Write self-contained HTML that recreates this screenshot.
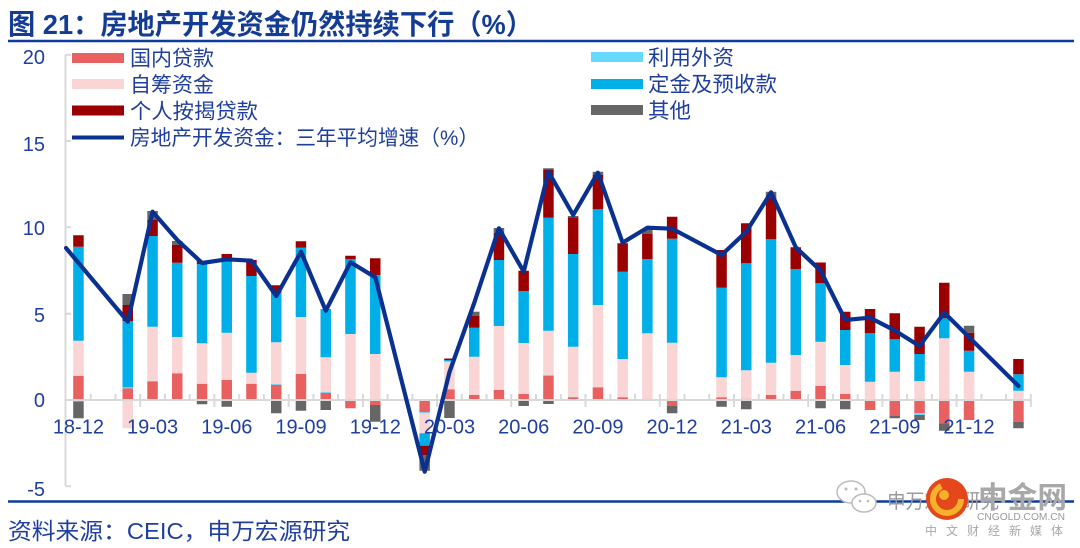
<!DOCTYPE html>
<html>
<head>
<meta charset="utf-8">
<style>
html,body{margin:0;padding:0;background:#fff;}
body{width:1080px;height:548px;overflow:hidden;}
svg{display:block;}
text{font-family:"Liberation Sans","Noto Sans CJK SC",sans-serif;}
</style>
</head>
<body>
<svg width="1080" height="548" viewBox="0 0 1080 548" xmlns="http://www.w3.org/2000/svg">
<text x="8" y="34" font-size="28" font-weight="bold" fill="#143c94" textLength="525" lengthAdjust="spacingAndGlyphs">图 21：房地产开发资金仍然持续下行（%）</text>
<line x1="8" y1="41" x2="1074" y2="41" stroke="#0e3b9c" stroke-width="2.5"/>

<rect x="72" y="53" width="52" height="10" fill="#e8605f"/>
<text x="130" y="65.5" font-size="21" fill="#1f3f9f" textLength="84" lengthAdjust="spacingAndGlyphs">国内贷款</text>
<rect x="72" y="79" width="52" height="10" fill="#f9d5d6"/>
<text x="130" y="92" font-size="21" fill="#1f3f9f" textLength="84" lengthAdjust="spacingAndGlyphs">自筹资金</text>
<rect x="72" y="105.5" width="52" height="10" fill="#9b0000"/>
<text x="130" y="118.5" font-size="21" fill="#1f3f9f" textLength="128" lengthAdjust="spacingAndGlyphs">个人按揭贷款</text>
<line x1="72" y1="137.5" x2="124" y2="137.5" stroke="#0a3190" stroke-width="4"/>
<text x="130" y="145" font-size="21" fill="#1f3f9f" textLength="349" lengthAdjust="spacingAndGlyphs">房地产开发资金：三年平均增速（%）</text>
<rect x="591" y="52" width="52" height="10" fill="#66d9ff"/>
<text x="648" y="65" font-size="21" fill="#1f3f9f" textLength="86" lengthAdjust="spacingAndGlyphs">利用外资</text>
<rect x="591" y="79" width="52" height="10" fill="#00aee8"/>
<text x="648" y="91.5" font-size="21" fill="#1f3f9f" textLength="129" lengthAdjust="spacingAndGlyphs">定金及预收款</text>
<rect x="591" y="105" width="52" height="10" fill="#666666"/>
<text x="648" y="118" font-size="21" fill="#1f3f9f" textLength="43" lengthAdjust="spacingAndGlyphs">其他</text>

<path d="M65.5 54.7V486.3M65.5 54.7H71M65.5 141H71M65.5 227.3H71M65.5 313.7H71M65.5 486.3H71" stroke="#d9d9d9" stroke-width="2" fill="none"/>
<g font-size="20" fill="#1f3f9f" text-anchor="end">
<text x="45" y="64">20</text>
<text x="45" y="151">15</text>
<text x="45" y="235">10</text>
<text x="45" y="322">5</text>
<text x="45" y="407">0</text>
<text x="45" y="496">-5</text>
</g>

<path fill="#e8605f" d="M73.2 375.7h10.5V400h-10.5zM122.5 388.3h10.5V400h-10.5zM147.3 381.3h10.5V400h-10.5zM172 373.3h10.5V400h-10.5zM196.8 383.7h10.5V400h-10.5zM221.5 380h10.5V400h-10.5zM246.2 383.7h10.5V400h-10.5zM271 384.7h10.5V400h-10.5zM295.7 374h10.5V400h-10.5zM320.5 392.7h10.5V400h-10.5zM345.2 400h10.5V408.3h-10.5zM370 400h10.5V405h-10.5zM419.4 400.5h10.5V412.3h-10.5zM444.2 389.3h10.5V400h-10.5zM469 395h10.5V400h-10.5zM493.7 390h10.5V400h-10.5zM518.4 394h10.5V400h-10.5zM543.2 375.7h10.5V400h-10.5zM567.9 397.3h10.5V400h-10.5zM592.7 387.3h10.5V400h-10.5zM617.4 397.3h10.5V400h-10.5zM642.1 399h10.5V400h-10.5zM666.9 400.5h10.5V406h-10.5zM716.3 397.3h10.5V400h-10.5zM741 398.7h10.5V400h-10.5zM765.8 395h10.5V400h-10.5zM790.5 390.7h10.5V400h-10.5zM815.3 385.7h10.5V400h-10.5zM840 394h10.5V400h-10.5zM864.8 400.5h10.5V410h-10.5zM889.5 400.5h10.5V416h-10.5zM914.3 400.5h10.5V413.3h-10.5zM939 400.5h10.5V423.3h-10.5zM963.8 400.5h10.5V420h-10.5zM1013.2 400.5h10.5V421.7h-10.5z"/>
<path fill="#66d9ff" d="M73.2 400h10.5V401.5h-10.5zM122.5 387.3h10.5V388.3h-10.5zM271 383.7h10.5V384.7h-10.5zM320.5 391.7h10.5V392.7h-10.5zM419.4 412.3h10.5V413.3h-10.5zM444.2 361h10.5V362.3h-10.5zM543.2 374.7h10.5V375.7h-10.5zM567.9 396.7h10.5V397.3h-10.5zM914.3 413.3h10.5V415h-10.5z"/>
<path fill="#f9d5d6" d="M73.2 340.7h10.5V375.7h-10.5zM122.5 400h10.5V428.3h-10.5zM147.3 326.7h10.5V381.3h-10.5zM172 337h10.5V373.3h-10.5zM196.8 343.3h10.5V383.7h-10.5zM221.5 332.7h10.5V380h-10.5zM246.2 372.7h10.5V383.7h-10.5zM271 342.3h10.5V383.7h-10.5zM295.7 317h10.5V374h-10.5zM320.5 357.3h10.5V391.7h-10.5zM345.2 334h10.5V400h-10.5zM370 354h10.5V400h-10.5zM419.4 413.3h10.5V433.3h-10.5zM444.2 362.3h10.5V389.3h-10.5zM469 356.7h10.5V395h-10.5zM493.7 326h10.5V390h-10.5zM518.4 343h10.5V394h-10.5zM543.2 330.7h10.5V374.7h-10.5zM567.9 346.7h10.5V396.7h-10.5zM592.7 305h10.5V387.3h-10.5zM617.4 359h10.5V397.3h-10.5zM642.1 333.3h10.5V399h-10.5zM666.9 342.7h10.5V400h-10.5zM716.3 377.3h10.5V397.3h-10.5zM741 370.3h10.5V398.7h-10.5zM765.8 362.7h10.5V395h-10.5zM790.5 355h10.5V390.7h-10.5zM815.3 341.7h10.5V385.7h-10.5zM840 365h10.5V394h-10.5zM864.8 381.7h10.5V400h-10.5zM889.5 371.7h10.5V400h-10.5zM914.3 381h10.5V400h-10.5zM939 338.3h10.5V400h-10.5zM963.8 371.7h10.5V400h-10.5zM1013.2 390.7h10.5V400h-10.5z"/>
<path fill="#00aee8" d="M73.2 246.7h10.5V340.7h-10.5zM122.5 321h10.5V387.3h-10.5zM147.3 236h10.5V326.7h-10.5zM172 262.7h10.5V337h-10.5zM196.8 264h10.5V343.3h-10.5zM221.5 261.7h10.5V332.7h-10.5zM246.2 276h10.5V372.7h-10.5zM271 292.7h10.5V342.3h-10.5zM295.7 247.7h10.5V317h-10.5zM320.5 309h10.5V357.3h-10.5zM345.2 259.3h10.5V334h-10.5zM370 275h10.5V354h-10.5zM419.4 433.3h10.5V445.7h-10.5zM444.2 360h10.5V361h-10.5zM469 327.7h10.5V356.7h-10.5zM493.7 260h10.5V326h-10.5zM518.4 291h10.5V343h-10.5zM543.2 217.7h10.5V330.7h-10.5zM567.9 254h10.5V346.7h-10.5zM592.7 209.3h10.5V305h-10.5zM617.4 271.7h10.5V359h-10.5zM642.1 259h10.5V333.3h-10.5zM666.9 238.7h10.5V342.7h-10.5zM716.3 287.7h10.5V377.3h-10.5zM741 263.3h10.5V370.3h-10.5zM765.8 239.3h10.5V362.7h-10.5zM790.5 269h10.5V355h-10.5zM815.3 283.3h10.5V341.7h-10.5zM840 330h10.5V365h-10.5zM864.8 333.3h10.5V381.7h-10.5zM889.5 339.3h10.5V371.7h-10.5zM914.3 354h10.5V381h-10.5zM939 318.3h10.5V338.3h-10.5zM963.8 350.7h10.5V371.7h-10.5zM1013.2 374.3h10.5V390.7h-10.5z"/>
<path fill="#9b0000" d="M73.2 235.3h10.5V246.7h-10.5zM122.5 305h10.5V321h-10.5zM147.3 220h10.5V236h-10.5zM172 245h10.5V262.7h-10.5zM196.8 260.7h10.5V264h-10.5zM221.5 254h10.5V261.7h-10.5zM246.2 260h10.5V276h-10.5zM271 285.3h10.5V292.7h-10.5zM295.7 241.3h10.5V247.7h-10.5zM345.2 255.7h10.5V259.3h-10.5zM370 258.3h10.5V275h-10.5zM419.4 445.7h10.5V455h-10.5zM444.2 358.5h10.5V360h-10.5zM469 316h10.5V327.7h-10.5zM493.7 232.7h10.5V260h-10.5zM518.4 270.7h10.5V291h-10.5zM543.2 169.3h10.5V217.7h-10.5zM567.9 217.3h10.5V254h-10.5zM592.7 175h10.5V209.3h-10.5zM617.4 243.3h10.5V271.7h-10.5zM642.1 234h10.5V259h-10.5zM666.9 216.7h10.5V238.7h-10.5zM716.3 250h10.5V287.7h-10.5zM741 223.3h10.5V263.3h-10.5zM765.8 197.3h10.5V239.3h-10.5zM790.5 247.3h10.5V269h-10.5zM815.3 262.5h10.5V283.3h-10.5zM840 311.7h10.5V330h-10.5zM864.8 309h10.5V333.3h-10.5zM889.5 313.3h10.5V339.3h-10.5zM914.3 326.7h10.5V354h-10.5zM939 282.7h10.5V318.3h-10.5zM963.8 332.7h10.5V350.7h-10.5zM1013.2 359h10.5V374.3h-10.5z"/>
<path fill="#666666" d="M73.2 401.5h10.5V418.3h-10.5zM122.5 294h10.5V305h-10.5zM147.3 211h10.5V220h-10.5zM172 241h10.5V245h-10.5zM196.8 400h10.5V404.3h-10.5zM221.5 400h10.5V406.7h-10.5zM271 401h10.5V413.3h-10.5zM295.7 400.5h10.5V410.7h-10.5zM320.5 401h10.5V410h-10.5zM370 405h10.5V421.7h-10.5zM419.4 455h10.5V470.7h-10.5zM444.2 401h10.5V418h-10.5zM469 311.7h10.5V316h-10.5zM493.7 228h10.5V232.7h-10.5zM518.4 401h10.5V406h-10.5zM543.2 168.3h10.5V169.3h-10.5zM543.2 400.5h10.5V404h-10.5zM567.9 216h10.5V217.3h-10.5zM592.7 171.7h10.5V175h-10.5zM642.1 229.3h10.5V234h-10.5zM666.9 406h10.5V413.3h-10.5zM716.3 401h10.5V406.7h-10.5zM741 401h10.5V409.3h-10.5zM765.8 191.7h10.5V197.3h-10.5zM815.3 401h10.5V408.3h-10.5zM840 401h10.5V409.3h-10.5zM889.5 416h10.5V418.3h-10.5zM914.3 415h10.5V420h-10.5zM939 423.3h10.5V430.7h-10.5zM963.8 325.7h10.5V332.7h-10.5zM1013.2 421.7h10.5V428.3h-10.5z"/>

<path stroke="#d9d9d9" stroke-width="2" fill="none" d="M65.5 400H1031.5M90.7 394V400M115.5 394V400M140.2 394V407M165 394V400M189.7 394V400M214.4 394V407M239.2 394V400M263.9 394V400M288.7 394V407M313.4 394V400M338.1 394V400M362.9 394V407M387.6 394V400M412.4 394V400M437.1 394V407M461.8 394V400M486.6 394V400M511.3 394V407M536 394V400M560.8 394V400M585.5 394V407M610.3 394V400M635 394V400M659.8 394V407M684.5 394V400M709.2 394V400M734 394V407M758.7 394V400M783.4 394V400M808.2 394V407M832.9 394V400M857.7 394V400M882.4 394V407M907.1 394V400M931.9 394V400M956.6 394V407M981.4 394V400M1006.1 394V400M1030.8 394V407"/>

<polyline fill="none" stroke="#0a3190" stroke-width="4.2" stroke-linejoin="round" stroke-linecap="round" points="66,248 127.8,321.7 152.6,211.7 177.3,240 202.1,263 226.8,259.3 251.5,260.7 276.3,296 301,251.7 325.8,310.7 350.5,262.3 375.3,277.3 424.7,471.7 449.5,372 474.2,303 498.9,228.3 523.7,271.7 548.4,171.7 573.2,215 597.9,172.7 622.6,242.7 647.4,227.7 672.1,228.7 721.6,255 746.3,231.7 771.1,192.3 795.8,247.3 820.6,270.7 845.3,320 870,317.7 894.8,330.5 919.5,346 944.3,312.7 1018.5,386"/>

<g font-size="20" fill="#1f3f9f" text-anchor="middle">
<text x="78.4" y="433.5">18-12</text>
<text x="152.6" y="433.5">19-03</text>
<text x="226.8" y="433.5">19-06</text>
<text x="301" y="433.5">19-09</text>
<text x="375.3" y="433.5">19-12</text>
<text x="449.5" y="433.5">20-03</text>
<text x="523.7" y="433.5">20-06</text>
<text x="597.9" y="433.5">20-09</text>
<text x="672.1" y="433.5">20-12</text>
<text x="746.3" y="433.5">21-03</text>
<text x="820.6" y="433.5">21-06</text>
<text x="894.8" y="433.5">21-09</text>
<text x="969" y="433.5">21-12</text>
</g>

<line x1="8" y1="501.5" x2="1074" y2="501.5" stroke="#0e3b9c" stroke-width="2.5"/>
<text x="8" y="539" font-size="23" fill="#1f3f9f" textLength="342" lengthAdjust="spacingAndGlyphs">资料来源：CEIC，申万宏源研究</text>

<ellipse cx="851" cy="492" rx="14" ry="11" fill="#fff" stroke="#bbb" stroke-width="1.5"/>
<ellipse cx="864" cy="503" rx="12" ry="9" fill="#fff" stroke="#bbb" stroke-width="1.5"/>
<path fill="#bbb" d="M844.5 489a1.5 1.5 0 1 0 3 0a1.5 1.5 0 1 0 -3 0zM854.5 489a1.5 1.5 0 1 0 3 0a1.5 1.5 0 1 0 -3 0zM858.7 501a1.3 1.3 0 1 0 2.6 0a1.3 1.3 0 1 0 -2.6 0zM866.7 501a1.3 1.3 0 1 0 2.6 0a1.3 1.3 0 1 0 -2.6 0z"/>
<text x="887" y="508" font-size="20" fill="#9a9a9a" textLength="112" lengthAdjust="spacingAndGlyphs">申万宏源研究</text>
<circle cx="947" cy="499" r="21" fill="#e5471c"/>
<circle cx="947" cy="499" r="14" fill="none" stroke="#f5b12a" stroke-width="6" stroke-dasharray="60 30"/>
<circle cx="944" cy="495" r="5" fill="#f5b12a"/>
<text x="978" y="508" font-size="30" font-weight="bold" fill="#a8a8a8" textLength="89" lengthAdjust="spacingAndGlyphs">中金网</text>
<text x="977" y="520" font-size="10.5" fill="#9a9a9a" textLength="88" lengthAdjust="spacingAndGlyphs">CNGOLD.COM.CN</text>
<text x="925" y="535" font-size="12" fill="#a8a8a8" textLength="138" lengthAdjust="spacing">中文财经新媒体</text>
</svg>
</body>
</html>
